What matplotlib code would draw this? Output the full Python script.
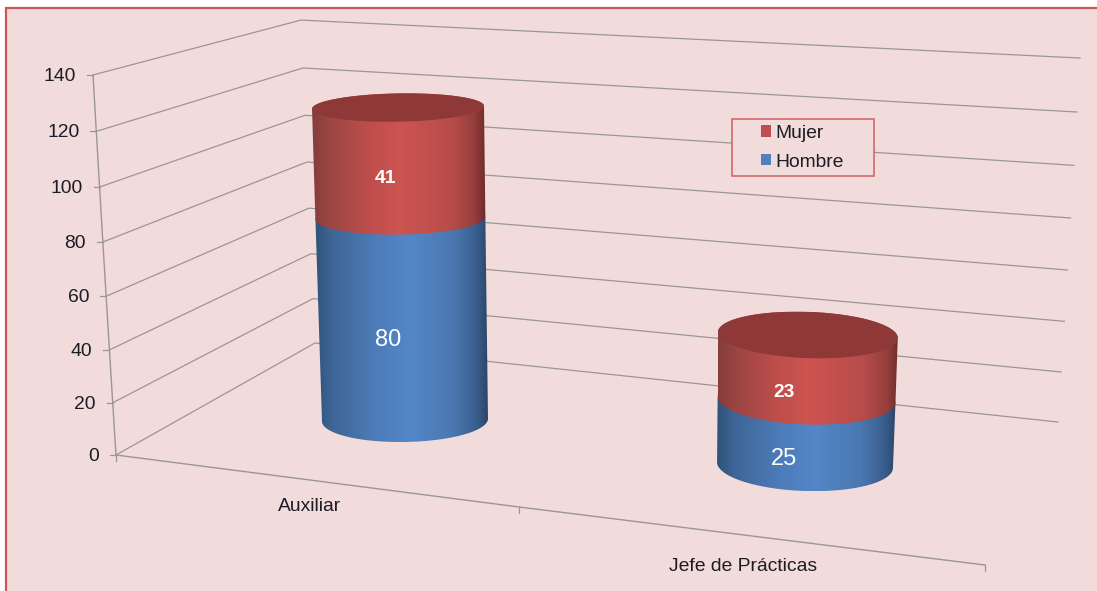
import numpy as np
import matplotlib
matplotlib.use('Agg')
import matplotlib.pyplot as plt
from matplotlib.colors import LinearSegmentedColormap
from matplotlib.patches import Patch, PathPatch, Polygon, Rectangle
from matplotlib.path import Path

plt.rcParams['font.family'] = ['Liberation Sans', 'DejaVu Sans']

categories = ['Auxiliar', 'Jefe de Prácticas']
hombre = [80, 25]
mujer = [41, 23]
y_ticks = [0, 20, 40, 60, 80, 100, 120, 140]

BG = '#f2dcdb'
BORDER = '#c9585a'
GRID = '#9a9696'
TEXT = '#1c1c24'
FS = 13.9

blue_map = LinearSegmentedColormap.from_list('blue', [
    (0.0, '#2f5379'), (0.1, '#3f6697'), (0.35, '#4c7cb9'), (0.55, '#5487c8'),
    (0.8, '#4a78b0'), (0.93, '#3b6090'), (1.0, '#2a4768')])
red_map = LinearSegmentedColormap.from_list('red', [
    (0.0, '#853d3b'), (0.1, '#9c4543'), (0.35, '#c04f4c'), (0.5, '#cd5451'),
    (0.8, '#b84c4a'), (0.93, '#973f3e'), (1.0, '#6e2c2c')])
TOP_RED = '#8e3937'

# cylinder layout, per category, in picture pixels
# base x/y, x drift, y scale a + b*v, rx base + rx drift, ry base + ry drift, tilt
cyl_layout = [
    dict(x0=405, dx=-0.058, y0=420, a=2.42, b=0.00134, rx0=83, drx=0.025,
         ry0=22, dry=-0.065, tilt=-1.0, lab_dx=(-15, -14), lab_dy=(19, 15)),
    dict(x0=805, dx=0.06, y0=465, a=2.483, b=0.0047, rx0=88, drx=0.04,
         ry0=26, dry=-0.06, tilt=2.0, lab_dx=(-22, -23), lab_dy=(26, 24)),
]


# the walls: three vertical edges of the 3d box (front, back corner, far right)
def wall_edge(v, x0, x140, y0, a, b):
    v = np.asarray(v, dtype=float)
    return x0 + (x140 - x0) * v / 140, y0 - a * v - b * v ** 2


def front_edge(v):
    return wall_edge(v, 116, 93, 455, 2.593, 0.000867)


def back_edge(v):
    return wall_edge(v, 315, 301, 343, 2.203, 0.00074)


def right_edge(v):
    return wall_edge(v, 1058, 1080, 422, 2.4836, 0.00083)


def ellipse_arc(c, v, t0, t1):
    t = np.linspace(t0, t1, 80)
    cx = c['x0'] + c['dx'] * v
    cy = c['y0'] - c['a'] * v - c['b'] * v ** 2
    rx = c['rx0'] + c['drx'] * v
    ry = c['ry0'] + c['dry'] * v
    ang = np.radians(c['tilt'])
    x = cx + rx * np.cos(t) * np.cos(ang) - ry * np.sin(t) * np.sin(ang)
    y = cy + rx * np.cos(t) * np.sin(ang) + ry * np.sin(t) * np.cos(ang)
    return np.column_stack([x, y])


def draw_segment(ax, c, v0, v1, cmap, z):
    low = ellipse_arc(c, v0, 0, np.pi)
    high = ellipse_arc(c, v1, np.pi, 2 * np.pi)
    pts = np.vstack([low, high])
    xmin, xmax = pts[:, 0].min(), pts[:, 0].max()
    ymin, ymax = pts[:, 1].min(), pts[:, 1].max()
    grad = np.linspace(0, 1, 256).reshape(1, -1)
    im = ax.imshow(grad, cmap=cmap, extent=(xmin, xmax, ymax, ymin),
                   aspect='auto', zorder=z, interpolation='bilinear')
    clip = PathPatch(Path(np.vstack([pts, pts[:1]])), fc='none', ec='none',
                     transform=ax.transData)
    ax.add_patch(clip)
    im.set_clip_path(clip)


fig = plt.figure(figsize=(10.97, 5.91), dpi=100, facecolor='white')
ax = fig.add_axes([0, 0, 1, 1])
ax.axis('off')

# panel
ax.add_patch(Rectangle((6, 8), 1200, 700, fc=BG, ec=BORDER, lw=1.6, zorder=0))

# gridlines: front edge -> back corner -> far right
for v in y_ticks:
    fx, fy = front_edge(v)
    bx, by = back_edge(v)
    rx, ry = right_edge(v)
    ax.plot([fx, bx, rx], [fy, by, ry], color=GRID, lw=0.9, zorder=1)
    ax.plot([fx - 6, fx], [fy, fy], color=GRID, lw=0.9, zorder=1)
    ax.text(fx - 17, fy + 1.5, str(v), ha='right', va='center', fontsize=FS, color=TEXT)

# left axis and floor front
fx, fy = front_edge(np.array(y_ticks))
ax.plot(fx, fy, color=GRID, lw=1.0, zorder=1)
floor_x = np.array([116, 519, 985])
floor_y = np.array([455, 507, 565])
ax.plot(floor_x, floor_y, color=GRID, lw=1.0, zorder=1)
for x, y in zip(floor_x, floor_y):
    ax.plot([x, x], [y, y + 6], color=GRID, lw=0.9, zorder=1)

cat_lab_x = [310, 743]
cat_lab_y = [506.5, 566.5]
for name, x, y in zip(categories, cat_lab_x, cat_lab_y):
    ax.text(x, y, name, ha='center', va='center', fontsize=FS, color=TEXT)

# cylinders
for i, c in enumerate(cyl_layout):
    h, m = hombre[i], mujer[i]
    draw_segment(ax, c, 0, h, blue_map, 3)
    draw_segment(ax, c, h, h + m, red_map, 4)
    ax.add_patch(Polygon(ellipse_arc(c, h + m, 0, 2 * np.pi), closed=True,
                         fc=TOP_RED, ec='none', zorder=5))

    mid = h / 2
    x = c['x0'] + c['dx'] * mid + c['lab_dx'][0]
    y = c['y0'] - c['a'] * mid - c['b'] * mid ** 2 + c['lab_dy'][0]
    ax.text(x, y, str(h), ha='center', va='center', fontsize=17, color='white', zorder=6)
    mid = h + m / 2
    x = c['x0'] + c['dx'] * mid + c['lab_dx'][1]
    y = c['y0'] - c['a'] * mid - c['b'] * mid ** 2 + c['lab_dy'][1]
    ax.text(x, y, str(m), ha='center', va='center', fontsize=FS, fontweight='bold',
            color='white', zorder=6)

# legend box sits over the gridlines
ax.add_patch(Rectangle((731.5, 119), 142.5, 57, fc=BG, ec='#d0696c', lw=1.2, zorder=7))
leg = ax.legend(handles=[Patch(fc='#c0504d', ec='none', label='Mujer'),
                         Patch(fc='#4f81bd', ec='none', label='Hombre')],
                loc='upper left', bbox_to_anchor=(759, 123), bbox_transform=ax.transData,
                frameon=False, fontsize=FS, borderpad=0.1, borderaxespad=0,
                handlelength=0.53, handleheight=0.53, handletextpad=0.2,
                labelspacing=0.6, labelcolor=TEXT)
leg.set_zorder(8)

ax.set_xlim(0, 1097)
ax.set_ylim(591, 0)
fig.savefig('out.png', dpi=100, facecolor='white')
